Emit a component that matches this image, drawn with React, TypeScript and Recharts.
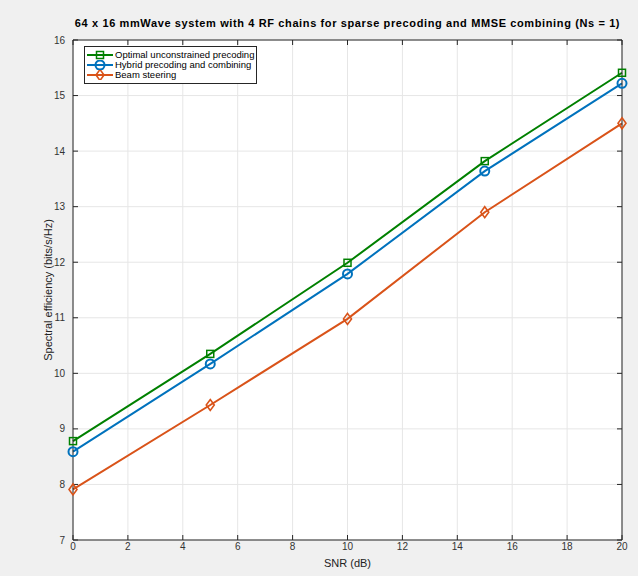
import React from "react";
import {
  LineChart, Line, XAxis, YAxis, CartesianGrid, Label,
} from "recharts";

// ─── Data ────────────────────────────────────────────────
const snr = [0, 5, 10, 15, 20];
const optimal = [8.78, 10.35, 11.99, 13.82, 15.41];
const hybrid = [8.59, 10.17, 11.79, 13.64, 15.22];
const beam = [7.91, 9.43, 10.98, 12.9, 14.5];

const xTicks = [0, 2, 4, 6, 8, 10, 12, 14, 16, 18, 20];
const yTicks = [7, 8, 9, 10, 11, 12, 13, 14, 15, 16];

const series = [
  { key: "optimal", name: "Optimal unconstrained precoding", color: "#008000", marker: "square" },
  { key: "hybrid", name: "Hybrid precoding and combining", color: "#0072BD", marker: "circle" },
  { key: "beam", name: "Beam steering", color: "#D95319", marker: "diamond" },
];

const data = snr.map((s, i) => ({
  snr: s,
  optimal: optimal[i],
  hybrid: hybrid[i],
  beam: beam[i],
}));

const FONT = "'Liberation Sans', Arial, Helvetica, sans-serif";
const AXIS = "#262626";
const tickStyle = { fontSize: 10, fill: "#333", fontFamily: FONT };

function Marker({ cx, cy, color, kind }: any) {
  if (cx == null || cy == null) return null;
  if (kind === "square") {
    return <rect x={cx - 3.5} y={cy - 3.5} width={7} height={7} fill="none" stroke={color} strokeWidth={1.5} />;
  }
  if (kind === "circle") {
    return <circle cx={cx} cy={cy} r={4.5} fill="none" stroke={color} strokeWidth={2} />;
  }
  return (
    <polygon
      points={`${cx},${cy - 5.5} ${cx + 4},${cy} ${cx},${cy + 5.5} ${cx - 4},${cy}`}
      fill="none"
      stroke={color}
      strokeWidth={1.6}
    />
  );
}

function LegendBox() {
  return (
    <div
      style={{
        position: "absolute",
        left: 84,
        top: 46,
        background: "#fff",
        border: `1px solid ${AXIS}`,
        padding: "3px 2px 3px 1px",
        fontFamily: FONT,
        fontSize: 9.5,
        color: "#000",
        lineHeight: "10px",
      }}
    >
      {series.map((s) => (
        <div key={s.key} style={{ display: "flex", alignItems: "center" }}>
          <svg width={28} height={10} style={{ marginRight: 1 }}>
            <line x1={1} y1={5} x2={27} y2={5} stroke={s.color} strokeWidth={2} />
            <Marker cx={14} cy={5} color={s.color} kind={s.marker} />
          </svg>
          <span>{s.name}</span>
        </div>
      ))}
    </div>
  );
}

export default function App() {
  return (
    <div
      style={{
        position: "absolute",
        left: 0,
        top: 0,
        width: 638,
        height: 576,
        background: "#f0f0f0",
      }}
    >
      <div
        style={{
          position: "absolute",
          left: 73,
          width: 549,
          top: 17,
          textAlign: "center",
          fontFamily: FONT,
          fontSize: 11,
          fontWeight: "bold",
          letterSpacing: 0.62,
          color: "#000",
        }}
      >
        64 x 16 mmWave system with 4 RF chains for sparse precoding and MMSE combining (Ns = 1)
      </div>
      <LineChart
        width={638}
        height={576}
        data={data}
        margin={{ top: 39, right: 10, bottom: 0, left: 33 }}
      >
        <CartesianGrid xAxisId="b" yAxisId="l" stroke="#e6e6e6" fill="#fff" />
        <XAxis
          xAxisId="b"
          dataKey="snr"
          type="number"
          domain={[0, 20]}
          ticks={xTicks}
          interval={0}
          height={36}
          tick={tickStyle}
          tickSize={-5}
          tickMargin={8}
          axisLine={{ stroke: AXIS }}
          tickLine={{ stroke: AXIS }}
        >
          <Label
            value="SNR (dB)"
            position="insideBottom"
            offset={9}
            style={{ fontSize: 11, fill: "#222", fontFamily: FONT }}
          />
        </XAxis>
        <XAxis
          xAxisId="t"
          orientation="top"
          dataKey="snr"
          type="number"
          domain={[0, 20]}
          ticks={xTicks}
          interval={0}
          height={1}
          tickSize={-5}
          tickFormatter={() => ""}
          axisLine={{ stroke: AXIS }}
          tickLine={{ stroke: AXIS }}
        />
        <YAxis
          yAxisId="l"
          type="number"
          domain={[7, 16]}
          ticks={yTicks}
          interval={0}
          width={40}
          tick={tickStyle}
          tickSize={-5}
          tickMargin={13}
          axisLine={{ stroke: AXIS }}
          tickLine={{ stroke: AXIS }}
        >
          <Label
            value="Spectral efficiency (bits/s/Hz)"
            position="center"
            angle={-90}
            dx={-5}
            style={{ fontSize: 11, fill: "#222", fontFamily: FONT, textAnchor: "middle" }}
          />
        </YAxis>
        <YAxis
          yAxisId="r"
          orientation="right"
          type="number"
          domain={[7, 16]}
          ticks={yTicks}
          interval={0}
          width={6}
          tickSize={-5}
          tickFormatter={() => ""}
          axisLine={{ stroke: AXIS }}
          tickLine={{ stroke: AXIS }}
        />
        {/* invisible series that keeps the top/right box axes active */}
        <Line
          xAxisId="t"
          yAxisId="r"
          dataKey="optimal"
          stroke="none"
          dot={false}
          activeDot={false}
          legendType="none"
          isAnimationActive={false}
        />
        {series.map((s) => (
          <Line
            key={s.key}
            xAxisId="b"
            yAxisId="l"
            type="linear"
            dataKey={s.key}
            name={s.name}
            stroke={s.color}
            strokeWidth={2}
            dot={(p: any) => <Marker key={`${s.key}-${p.index}`} cx={p.cx} cy={p.cy} color={s.color} kind={s.marker} />}
            activeDot={false}
            isAnimationActive={false}
          />
        ))}
      </LineChart>
      <LegendBox />
    </div>
  );
}
